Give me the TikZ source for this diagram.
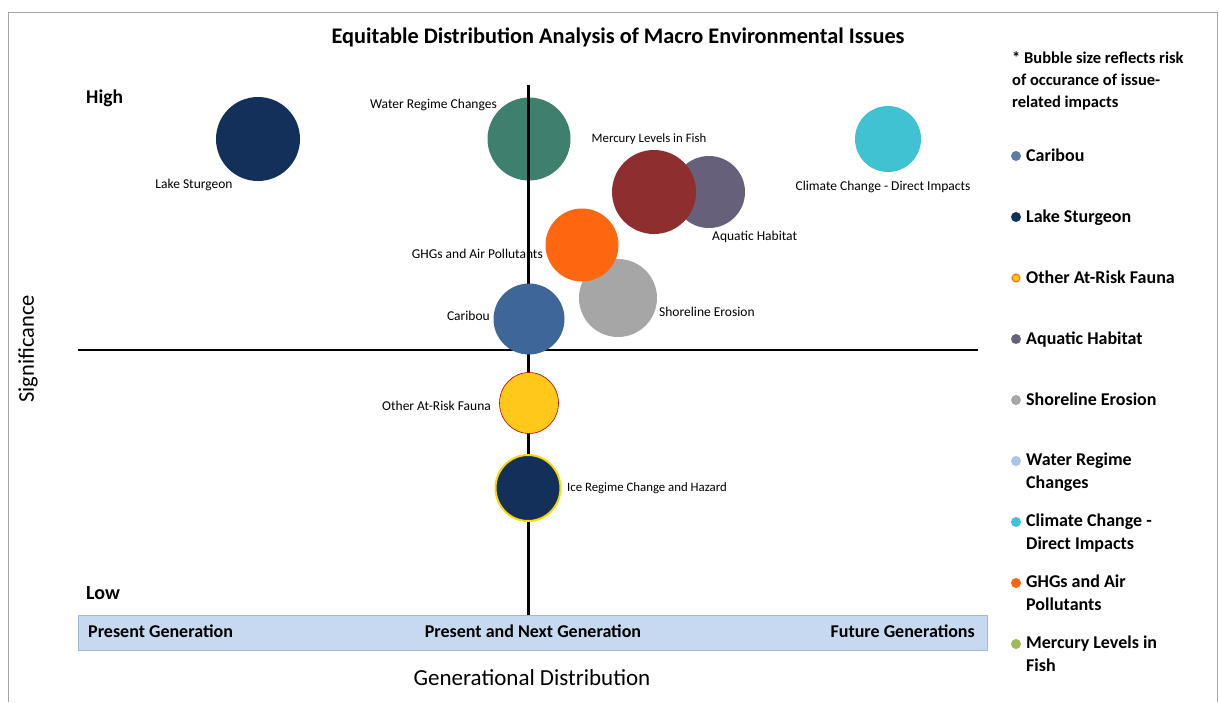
\documentclass[tikz,border=0pt]{standalone}
\usepackage{fontspec}
\setmainfont{Carlito}
\usepackage{tikz}
\usetikzlibrary{shapes.geometric}

\definecolor{navy}{HTML}{12305A}
\definecolor{teal}{HTML}{3E7F6E}
\definecolor{mercury}{HTML}{8E2E2E}
\definecolor{aquatic}{HTML}{66607A}
\definecolor{climate}{HTML}{40C2D3}
\definecolor{ghg}{HTML}{FF6610}
\definecolor{shore}{HTML}{A6A6A6}
\definecolor{caribou}{HTML}{3F6699}
\definecolor{fauna}{HTML}{FFC81A}
\definecolor{band}{HTML}{C6D9F1}
\definecolor{bandline}{HTML}{A3B8D3}
\definecolor{waterkey}{HTML}{A9C4E6}
\definecolor{mercurykey}{HTML}{9BBB59}

\begin{document}
\begin{tikzpicture}[x=1pt, y=-1pt]
	\tikzstyle{every node} = [inner sep=0pt]
	\tikzstyle{bubble}   = [circle, draw=none]
	\tikzstyle{tag}      = [font=\fontsize{13.5}{15}\selectfont]
	\tikzstyle{bandtext} = [font=\bfseries\fontsize{18}{21}\selectfont]
	\tikzstyle{keytext}  = [font=\bfseries\fontsize{18}{23}\selectfont, align=left]
	\tikzstyle{keydot}   = [circle, minimum size=10pt]
	\useasboundingbox (0,0) rectangle (1219,702);
	% frame
	\draw [gray!70] (8,702) -- (8,12) -- (1217,12) -- (1217,702);
	\node (title) at (618,37) {\bfseries\fontsize{22.3}{26}\selectfont Equitable Distribution Analysis of Macro Environmental Issues};
	% generation band
	\node (band) [draw=bandline, fill=band, minimum width=909pt, minimum height=35pt] at (533,632.5) {};
	\node (present) [bandtext, anchor=west] at (88,631)  {Present Generation};
	\node (next)    [bandtext]              at (533,631) {Present and Next Generation};
	\node (future)  [bandtext, anchor=east] at (975,631) {Future Generations};
	\node (xlabel) at (532,678) {\fontsize{23}{27}\selectfont Generational Distribution};
	\node (ylabel) [rotate=90] at (28,349) {\fontsize{22.5}{26}\selectfont Significance};
	\node (high) [anchor=west] at (86,98)  {\bfseries\fontsize{19.5}{23}\selectfont High};
	\node (low)  [anchor=west] at (86,593) {\bfseries\fontsize{20}{23}\selectfont Low};
	% bubbles under the axes
	\node (water) [bubble, fill=teal, minimum size=83pt] at (529,139) {};
	\node (ghglab) [tag, anchor=east] at (543,254) {GHGs and Air Pollutants};
	% axes
	\coordinate (top)    at (528,85);
	\coordinate (bottom) at (528,615);
	\coordinate (left)   at (78,350);
	\coordinate (right)  at (978,350);
	\draw [line width=3pt]   (top) -- (bottom);
	\draw [line width=2.5pt] (left) -- (right);
	% bubbles
	\node (sturgeon) [bubble, fill=navy, minimum size=84pt]     at (258,139) {};
	\node (aquatic)  [bubble, fill=aquatic, minimum size=72pt]  at (709,192) {};
	\node (mercury)  [bubble, fill=mercury, minimum size=84pt]  at (654,192) {};
	\node (climate)  [bubble, fill=climate, minimum size=66pt]  at (888,139) {};
	\node (shore)    [bubble, fill=shore, minimum size=78pt]    at (618,298) {};
	\node (ghg)      [bubble, fill=ghg, minimum size=73pt]      at (582,245) {};
	\node (caribou)  [bubble, fill=caribou, minimum size=71pt]  at (529,319) {};
	\node (fauna)    [ellipse, fill=fauna, draw=red!70!black, line width=.6pt, minimum width=59pt, minimum height=61pt] at (529,403) {};
	\node (ice)      [ellipse, fill=navy, draw=yellow!75!orange, line width=2pt, minimum width=65pt, minimum height=66pt] at (528,488) {};
	% bubble labels
	\node (sturgeonlab) [tag]              at (194,185) {Lake Sturgeon};
	\node (waterlab)    [tag, anchor=east] at (497,105) {Water Regime Changes};
	\node (mercurylab)  [tag, font=\fontsize{12.8}{15}\selectfont] at (649,139) {Mercury Levels in Fish};
	\node (climatelab)  [tag]              at (883,187) {Climate Change - Direct Impacts};
	\node (aquaticlab)  [tag, anchor=west] at (712,237) {Aquatic Habitat};
	\node (shorelab)    [tag, anchor=west] at (659,312) {Shoreline Erosion};
	\node (cariboulab)  [tag, anchor=east] at (490,316) {Caribou};
	\node (faunalab)    [tag, anchor=east] at (491,406) {Other At-Risk Fauna};
	\node (icelab)      [tag, font=\fontsize{12.8}{15}\selectfont, anchor=west] at (567,488) {Ice Regime Change and Hazard};
	% key
	\node (note) [keytext, font=\bfseries\fontsize{16.5}{22}\selectfont, anchor=north west] at (1012,51) {* Bubble size reflects risk\\of occurance of issue-\\related impacts};
	\node (k1) [keydot, fill=caribou!85!white] at (1016,156) {};
	\node (k2) [keydot, fill=navy]             at (1016,217) {};
	\node (k3) [keydot, fill=fauna, draw=orange!80!red, line width=1pt, minimum size=8pt] at (1016,278) {};
	\node (k4) [keydot, fill=aquatic]          at (1016,339) {};
	\node (k5) [keydot, fill=shore]            at (1016,400) {};
	\node (k6) [keydot, fill=waterkey]         at (1016,461) {};
	\node (k7) [keydot, fill=climate]          at (1016,522) {};
	\node (k8) [keydot, fill=ghg]              at (1016,583) {};
	\node (k9) [keydot, fill=mercurykey]       at (1016,644) {};
	\node (t1) [keytext, anchor=base west] at (1026,161) {Caribou};
	\node (t2) [keytext, anchor=base west] at (1026,222) {Lake Sturgeon};
	\node (t3) [keytext, anchor=base west] at (1026,283) {Other At-Risk Fauna};
	\node (t4) [keytext, anchor=base west] at (1026,344) {Aquatic Habitat};
	\node (t5) [keytext, anchor=base west] at (1026,405) {Shoreline Erosion};
	\node (t6) [keytext, anchor=north west] at (1026,453) {Water Regime\\Changes};
	\node (t7) [keytext, anchor=north west] at (1026,514) {Climate Change -\\Direct Impacts};
	\node (t8) [keytext, anchor=north west] at (1026,575) {GHGs and Air\\Pollutants};
	\node (t9) [keytext, anchor=north west] at (1026,636) {Mercury Levels in\\Fish};
\end{tikzpicture}
\end{document}
